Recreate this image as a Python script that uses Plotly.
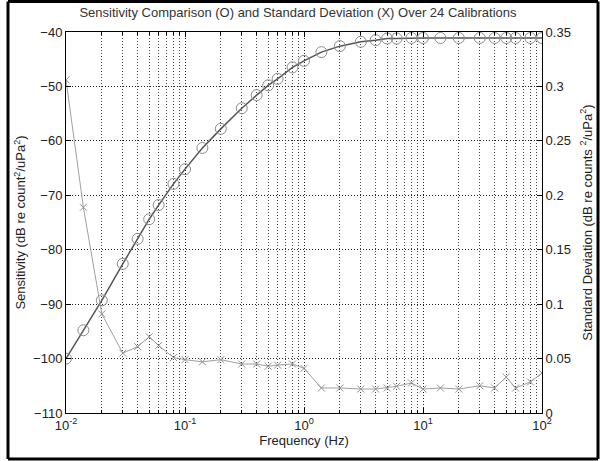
import plotly.graph_objects as go

freq = [0.01, 0.014, 0.02, 0.03, 0.04, 0.05, 0.06, 0.08, 0.1, 0.14, 0.2, 0.3, 0.4, 0.5, 0.6, 0.8,
        1, 1.4, 2, 3, 4, 5, 6, 8, 10, 14, 20, 30, 40, 50, 60, 80, 100]
sensitivity = [-100.0, -94.8, -89.3, -82.6, -78.0, -74.4, -71.8, -67.9, -65.2, -61.3, -57.8, -54.0,
               -51.6, -49.8, -48.6, -46.5, -45.3, -43.7, -42.6, -41.8, -41.5, -41.2, -41.2, -41.1,
               -41.1, -41.1, -41.1, -41.1, -41.1, -41.1, -41.1, -41.1, -41.1]
std_dev = [0.306, 0.189, 0.091, 0.055, 0.061, 0.070, 0.062, 0.051, 0.049, 0.047, 0.049, 0.045,
           0.045, 0.043, 0.044, 0.045, 0.041, 0.023, 0.023, 0.022, 0.022, 0.023, 0.0245, 0.0276,
           0.022, 0.023, 0.022, 0.025, 0.023, 0.033, 0.023, 0.0285, 0.0367]

x_tickvals = [0.01, 0.1, 1, 10, 100]
x_ticktext = ["10<sup>-2</sup>", "10<sup>-1</sup>", "10<sup>0</sup>", "10<sup>1</sup>", "10<sup>2</sup>"]
x_minor_vals = [m * d for d in [0.01, 0.1, 1, 10] for m in range(2, 10)]
y_tickvals = [-110, -100, -90, -80, -70, -60, -50, -40]
y2_tickvals = [0, 0.05, 0.1, 0.15, 0.2, 0.25, 0.3, 0.35]
y2_ticktext = ["0", "0.05", "0.1", "0.15", "0.2", "0.25", "0.3", "0.35"]

FONT = "Liberation Sans, Arial, sans-serif"
GRID = "1px,2px"

fig = go.Figure()
fig.add_trace(go.Scatter(x=freq, y=sensitivity, mode="lines",
                         line=dict(color="#555555", width=1.5), showlegend=False, hoverinfo="skip"))
fig.add_trace(go.Scatter(x=freq, y=sensitivity, mode="markers",
                         marker=dict(symbol="circle-open", size=11, color="#8c8c8c", line=dict(width=1)),
                         showlegend=False))
fig.add_trace(go.Scatter(x=freq, y=std_dev, mode="lines+markers", yaxis="y2",
                         line=dict(color="#a0a0a0", width=1),
                         marker=dict(symbol="x-thin-open", size=7, color="#909090", line=dict(width=1, color="#909090")),
                         showlegend=False))

L, R, T, B = 66, 58, 32, 48
pw, ph = 600 - L - R, 461 - T - B

def px2paper_x(px):
    return (px - L) / pw

def px2paper_y(py):
    return (461 - B - py) / ph

frame_lines = []
fx0, fx1, fy0, fy1 = px2paper_x(8), px2paper_x(598), px2paper_y(459), px2paper_y(1.5)
for (a0, b0, a1, b1) in [(fx0, fy0, fx1, fy0), (fx0, fy1, fx1, fy1), (fx0, fy0, fx0, fy1), (fx1, fy0, fx1, fy1)]:
    frame_lines.append(dict(type="line", xref="paper", yref="paper", x0=a0, y0=b0, x1=a1, y1=b1,
                            line=dict(color="black", width=3), layer="above"))

fig.update_layout(
    width=600, height=461,
    margin=dict(l=L, r=R, t=T, b=B, autoexpand=False),
    paper_bgcolor="white", plot_bgcolor="white",
    font=dict(family=FONT, size=12, color="#222222"),
    title=dict(text="Sensitivity Comparison (O) and Standard Deviation (X) Over 24 Calibrations",
               x=(66 + 476 / 2 - 6) / 600, xanchor="center", y=0.972, yanchor="middle",
               font=dict(size=13, family=FONT, color="#333333")),
    xaxis=dict(type="log", range=[-2, 2], tickvals=x_tickvals, ticktext=x_ticktext, automargin=False,
               showgrid=True, gridcolor="#222222", griddash=GRID, gridwidth=1,
               minor=dict(tickvals=x_minor_vals, showgrid=True, gridcolor="#444444", griddash=GRID, gridwidth=1,
                          ticks="inside", ticklen=3, tickcolor="black"),
               ticks="inside", ticklen=5, tickcolor="black",
               showline=True, linecolor="black", linewidth=1, mirror="ticks",
               zeroline=False,
               title=dict(text="Frequency (Hz)", font=dict(size=13), standoff=4),
               tickfont=dict(size=13)),
    yaxis=dict(range=[-110, -40], tickvals=y_tickvals, automargin=False,
               showgrid=True, gridcolor="#222222", griddash=GRID, gridwidth=1,
               ticks="inside", ticklen=5, tickcolor="black",
               showline=True, linecolor="black", linewidth=1,
               zeroline=False,
               title=dict(text="Sensitivity (dB re count<sup>2</sup>/uPa<sup>2</sup>)", font=dict(size=13), standoff=4),
               tickfont=dict(size=13)),
    yaxis2=dict(range=[0, 0.35], tickvals=y2_tickvals, ticktext=y2_ticktext, automargin=False,
                overlaying="y", side="right", showgrid=False,
                ticks="inside", ticklen=5, tickcolor="black",
                showline=True, linecolor="black", linewidth=1,
                zeroline=False,
                title=dict(text="Standard Deviation (dB re counts <sup>2</sup>/uPa<sup>2</sup>)", font=dict(size=13), standoff=12),
                tickfont=dict(size=13)),
    shapes=frame_lines,
)

fig.write_html("out.html", config={"displayModeBar": False},
               post_script="document.body.style.margin='0';document.body.style.overflow='hidden';")
